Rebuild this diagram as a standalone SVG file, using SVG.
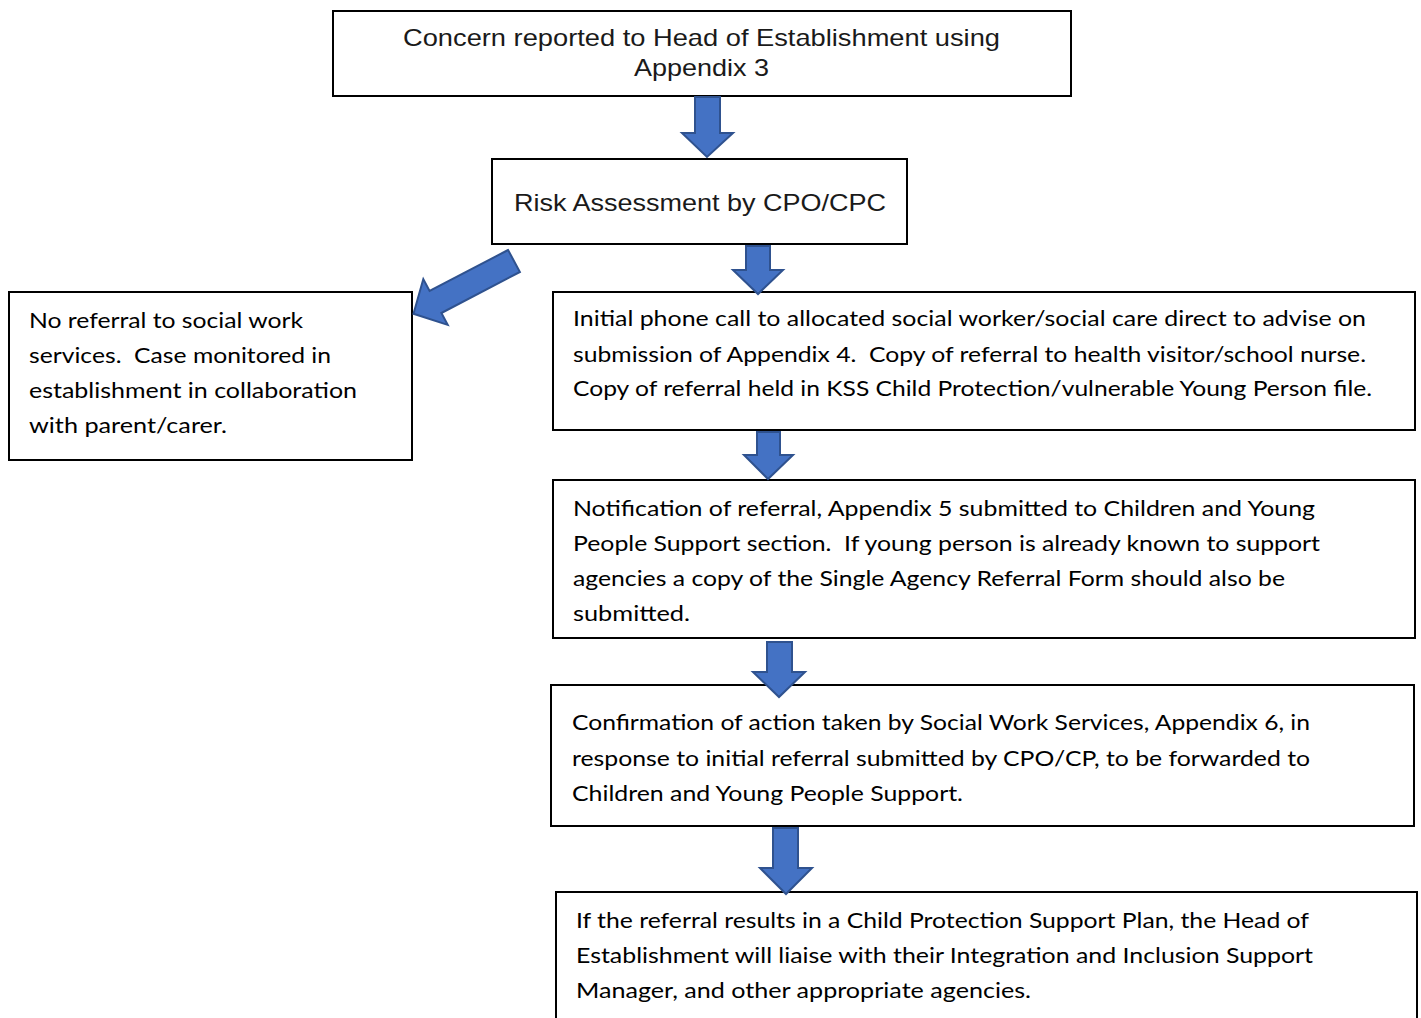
<svg xmlns="http://www.w3.org/2000/svg" width="1421" height="1018" viewBox="0 0 1421 1018">
<style>
.box{fill:#fff;stroke:#000;stroke-width:2}
.arw{fill:#4472C4;stroke:#2F528F;stroke-width:2;stroke-linejoin:miter}
.t1{font-family:"Liberation Sans",Arial,sans-serif;font-size:24px;fill:#1a1a1a}
.t2{font-family:Lato,"Open Sans",sans-serif;font-size:21.5px;fill:#000}
</style>
<rect width="1421" height="1018" fill="#fff"/>
<g id="n1">
<rect class="box" x="333" y="11" width="738" height="85"/>
<text class="t1" x="403" y="46" textLength="597" lengthAdjust="spacingAndGlyphs">Concern reported to Head of Establishment using</text>
<text class="t1" x="634" y="76" textLength="135" lengthAdjust="spacingAndGlyphs">Appendix 3</text>
</g>
<g id="n2">
<rect class="box" x="492" y="159" width="415" height="85"/>
<text class="t1" x="514" y="211" textLength="372" lengthAdjust="spacingAndGlyphs">Risk Assessment by CPO/CPC</text>
</g>
<g id="n3">
<rect class="box" x="9" y="292" width="403" height="168"/>
<text class="t2" x="29" y="328" textLength="274" lengthAdjust="spacingAndGlyphs">No referral to social work</text>
<text class="t2" x="29" y="363" textLength="302" lengthAdjust="spacingAndGlyphs" xml:space="preserve">services.  Case monitored in</text>
<text class="t2" x="29" y="398" textLength="328" lengthAdjust="spacingAndGlyphs">establishment in collaboration</text>
<text class="t2" x="29" y="433" textLength="198" lengthAdjust="spacingAndGlyphs">with parent/carer.</text>
</g>
<g id="n4">
<rect class="box" x="553" y="292" width="862" height="138"/>
<text class="t2" x="573" y="326" textLength="793" lengthAdjust="spacingAndGlyphs">Initial phone call to allocated social worker/social care direct to advise on</text>
<text class="t2" x="573" y="362" textLength="793" lengthAdjust="spacingAndGlyphs" xml:space="preserve">submission of Appendix 4.  Copy of referral to health visitor/school nurse.</text>
<text class="t2" x="573" y="396" textLength="799" lengthAdjust="spacingAndGlyphs">Copy of referral held in KSS Child Protection/vulnerable Young Person file.</text>
</g>
<g id="n5">
<rect class="box" x="553" y="480" width="862" height="158"/>
<text class="t2" x="573" y="516" textLength="742" lengthAdjust="spacingAndGlyphs">Notification of referral, Appendix 5 submitted to Children and Young</text>
<text class="t2" x="573" y="551" textLength="747" lengthAdjust="spacingAndGlyphs" xml:space="preserve">People Support section.  If young person is already known to support</text>
<text class="t2" x="573" y="586" textLength="712" lengthAdjust="spacingAndGlyphs">agencies a copy of the Single Agency Referral Form should also be</text>
<text class="t2" x="573" y="621" textLength="117" lengthAdjust="spacingAndGlyphs">submitted.</text>
</g>
<g id="n6">
<rect class="box" x="551" y="685" width="863" height="141"/>
<text class="t2" x="572" y="730" textLength="738" lengthAdjust="spacingAndGlyphs">Confirmation of action taken by Social Work Services, Appendix 6, in</text>
<text class="t2" x="572" y="766" textLength="738" lengthAdjust="spacingAndGlyphs">response to initial referral submitted by CPO/CP, to be forwarded to</text>
<text class="t2" x="572" y="801" textLength="391" lengthAdjust="spacingAndGlyphs">Children and Young People Support.</text>
</g>
<g id="n7">
<rect class="box" x="556" y="892" width="861" height="140"/>
<text class="t2" x="576" y="928" textLength="733" lengthAdjust="spacingAndGlyphs">If the referral results in a Child Protection Support Plan, the Head of</text>
<text class="t2" x="576" y="963" textLength="737" lengthAdjust="spacingAndGlyphs">Establishment will liaise with their Integration and Inclusion Support</text>
<text class="t2" x="576" y="998" textLength="455" lengthAdjust="spacingAndGlyphs">Manager, and other appropriate agencies.</text>
</g>
<g id="connectors">
<polygon class="arw" points="695,97 720,97 720,133 733,133 707,157 682,133 695,133"/>
<polygon class="arw" points="508.1,250 429.6,291 423.3,279.1 413.5,313.8 447.7,324.9 441.4,313 519.9,272"/>
<polygon class="arw" points="746,246 770,246 770,270 783,270 758,294 733,270 746,270"/>
<polygon class="arw" points="757,432 780,432 780,455 793,455 768,479 744,455 757,455"/>
<polygon class="arw" points="767,642 792,642 792,672 805,672 779,697 753,672 767,672"/>
<polygon class="arw" points="773,828 798,828 798,868 812,868 786,894 760,868 773,868"/>
</g>
</svg>
